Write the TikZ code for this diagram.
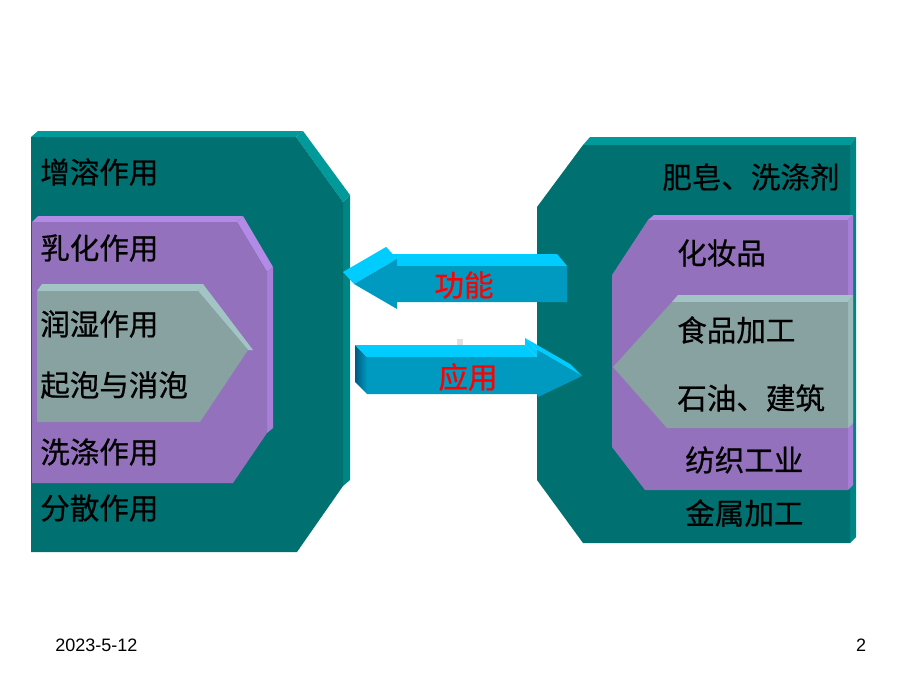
\documentclass[tikz,border=0pt]{standalone}
\usepackage{fontspec}
\setmainfont{Liberation Sans}
\newfontfamily\cjk[FakeBold=0.6]{Noto Sans CJK SC}
\definecolor{tealfront}{RGB}{0,112,112}
\definecolor{tealtop}{RGB}{0,154,154}
\definecolor{tealside}{RGB}{0,133,133}
\definecolor{purfront}{RGB}{148,113,188}
\definecolor{purtop}{RGB}{179,139,230}
\definecolor{purside}{RGB}{167,127,216}
\definecolor{grayfront}{RGB}{136,161,161}
\definecolor{graytop}{RGB}{163,196,196}
\definecolor{grayside}{RGB}{157,186,186}
\definecolor{cyantop}{RGB}{0,204,255}
\definecolor{cyanfront}{RGB}{0,153,192}
\definecolor{cyanside}{RGB}{0,90,128}
\tikzset{
  lbl/.style={anchor=west, inner sep=0pt, font=\cjk\fontsize{21}{25}\selectfont},
  redlbl/.style={inner sep=0pt, text=red, font=\cjk\fontsize{21}{25}\selectfont},
  foot/.style={inner sep=0pt, font=\fontsize{12.8}{15}\selectfont}
}
\begin{document}
\begin{tikzpicture}[x=0.025cm, y=-0.025cm]
\useasboundingbox[fill=white] (0,0) rectangle (920,690);

% left block
\fill[tealtop] (31,137) -- (38,131) -- (303,131) -- (296,137) -- cycle;
\fill[tealtop] (296,137) -- (303,131) -- (350,195) -- (343,202) -- cycle;
\fill[tealside] (343,202) -- (350,195) -- (350,480) -- (343,486) -- cycle;
\fill[tealfront] (31,137) -- (296,137) -- (343,202) -- (343,486) -- (297,552) -- (31,552) -- cycle;

\fill[purtop] (32,222) -- (38,216) -- (243,216) -- (237,222) -- cycle;
\fill[purtop] (237,222) -- (243,216) -- (273,267) -- (267,272) -- cycle;
\fill[purside] (267,272) -- (273,267) -- (273,428) -- (267,433) -- cycle;
\fill[purfront] (32,222) -- (237,222) -- (267,272) -- (267,433) -- (233,483) -- (32,483) -- cycle;

\fill[graytop] (37,291) -- (42,284) -- (203,284) -- (198,291) -- cycle;
\fill[graytop] (198,291) -- (203,284) -- (253,350) -- (248,350) -- cycle;
\fill[grayfront] (37,291) -- (198,291) -- (248,350) -- (200,422) -- (37,422) -- cycle;

% right block
\fill[tealtop] (583,145) -- (590,137) -- (856,137) -- (850,145) -- cycle;
\fill[tealside] (850,145) -- (856,137) -- (856,537) -- (850,543) -- cycle;
\fill[tealfront] (583,145) -- (850,145) -- (850,543) -- (583,543) -- (537,480) -- (537,207) -- cycle;

\fill[purtop] (648,220) -- (654,215) -- (853,215) -- (848,220) -- cycle;
\fill[purside] (848,220) -- (853,215) -- (853,485) -- (848,490) -- cycle;
\fill[purfront] (648,220) -- (848,220) -- (848,490) -- (645,490) -- (612,447) -- (612,275) -- cycle;

\fill[graytop] (672,302) -- (678,295) -- (853,295) -- (848,302) -- cycle;
\fill[grayside] (848,302) -- (853,295) -- (853,423) -- (848,428) -- cycle;
\fill[grayfront] (672,302) -- (848,302) -- (848,428) -- (667,428) -- (613,367) -- cycle;

% upper arrow
\fill[cyantop] (354,284) -- (397,259) -- (386,247) -- (343,272) -- cycle;
\fill[cyantop] (397,259) -- (397,266) -- (386,254) -- (386,247) -- cycle;
\fill[cyantop] (397,266) -- (567,266) -- (557,254) -- (386,254) -- cycle;
\fill[cyanfront] (354,284) -- (397,259) -- (397,266) -- (567,266) -- (567,302)
                 -- (397,302) -- (397,309) -- cycle;

% lower arrow
\fill[gray!25] (457,339) rectangle (463,345);
\shade[left color=cyanside, right color=cyanfront] (355,345) -- (367,357) -- (367,394) -- (355,382) -- cycle;
\fill[cyantop] (367,357) -- (537,357) -- (525,345) -- (355,345) -- cycle;
\fill[cyantop] (537,357) -- (537,350) -- (525,338) -- (525,345) -- cycle;
\fill[cyantop] (537,350) -- (582,376) -- (570,364) -- (525,338) -- cycle;
\fill[cyanfront] (367,357) -- (537,357) -- (537,350) -- (582,376) -- (538,397)
                 -- (537,394) -- (367,394) -- cycle;

\node[redlbl] (gn) at (464,285) {功能};
\node[redlbl] (yy) at (468,377) {应用};

\foreach \n/\y/\t in {a/172/增溶作用, b/248/乳化作用, c/324/润湿作用,
                      d/385/起泡与消泡, e/452/洗涤作用, f/508/分散作用}
  \node[lbl] (left-\n) at (40,\y) {\t};

\foreach \n/\x/\y/\t in {a/662/177/肥皂、洗涤剂, b/677/253/化妆品, c/677/330/食品加工,
                         d/677/398/石油、建筑, e/685/460/纺织工业, f/685/513/金属加工}
  \node[lbl] (right-\n) at (\x,\y) {\t};

\node[foot, anchor=west] (date) at (55,645) {2023-5-12};
\node[foot] (page) at (861,645) {2};
\end{tikzpicture}
\end{document}
